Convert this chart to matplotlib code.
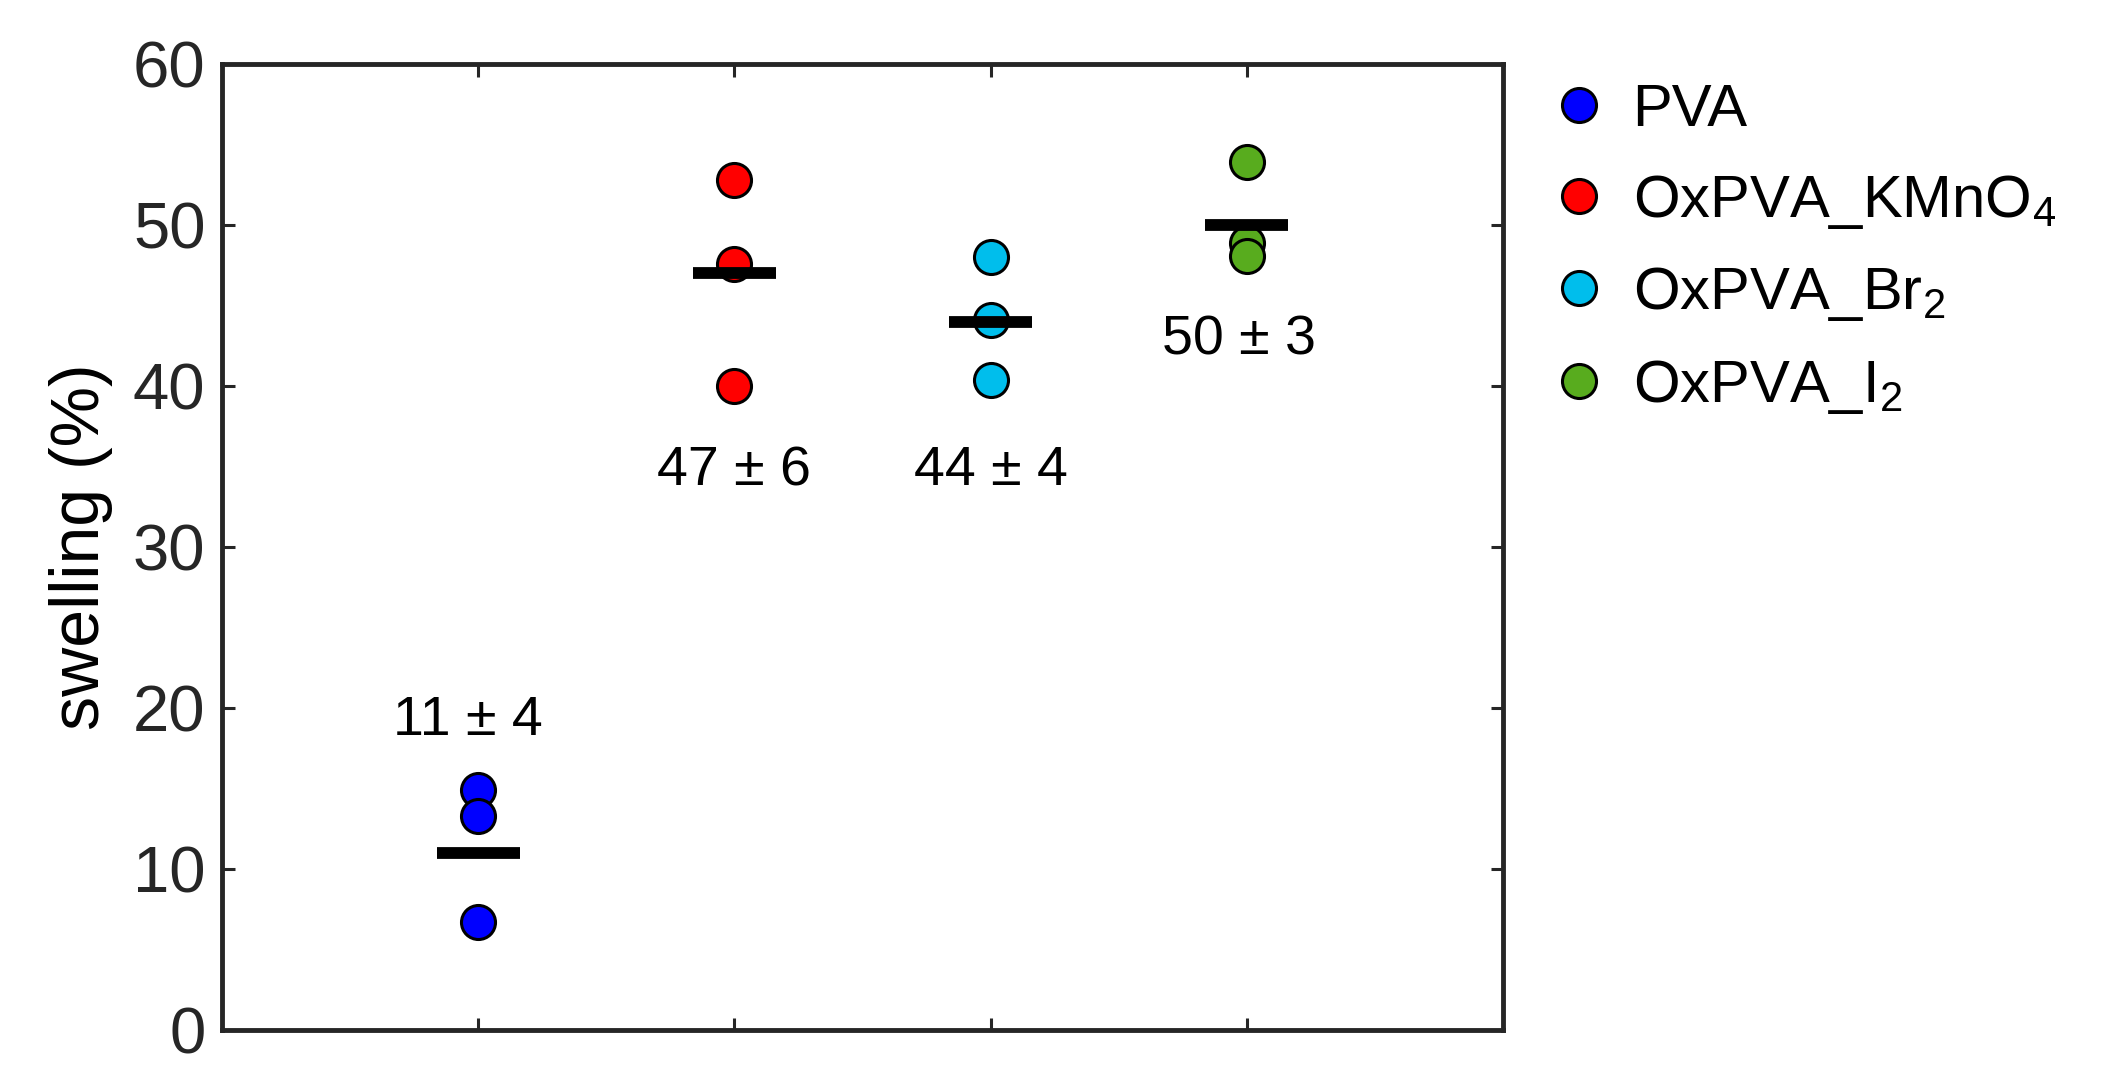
import matplotlib
matplotlib.use("Agg")
import matplotlib.pyplot as plt
from matplotlib.lines import Line2D

plt.rcParams['font.family'] = ['Liberation Sans', 'DejaVu Sans']
plt.rcParams['mathtext.fontset'] = 'custom'
plt.rcParams['mathtext.rm'] = 'Liberation Sans'
plt.rcParams['mathtext.it'] = 'Liberation Sans'

# data
groups = ['PVA', 'OxPVA_KMnO$_4$', 'OxPVA_Br$_2$', 'OxPVA_I$_2$']
colors = ['#0000FF', '#FF0000', '#00BEEC', '#58AC1E']
pva = [14.9, 13.3, 6.7]
kmno4 = [52.8, 47.6, 40.0]
br2 = [48.0, 44.1, 40.4]
i2 = [53.9, 48.9, 48.1]
means = [11, 47, 44, 50]
sds = [4, 6, 4, 3]

# where the "mean ± sd" labels sit (data coords)
label_x = [0.96, 2.0, 3.0, 3.97]
label_y = [19.2, 34.7, 34.7, 42.8]

fig = plt.figure(figsize=(21.11, 10.91), dpi=100)
ax = fig.add_axes([0.1052, 0.0559, 0.6068, 0.8854])

points = [pva, kmno4, br2, i2]
for i, vals in enumerate(points):
    xpos = i + 1
    ax.plot([xpos] * len(vals), vals, 'o', ms=24.5, mfc=colors[i], mec='black',
            mew=2.2, linestyle='none', zorder=3)
    ax.plot([xpos - 0.162, xpos + 0.162], [means[i], means[i]], color='black',
            lw=8.5, solid_capstyle='butt', zorder=4)
    ax.text(label_x[i], label_y[i], '%d ± %d' % (means[i], sds[i]),
            ha='center', va='center', fontsize=40, color='black')

ax.set_xlim(0, 5)
ax.set_ylim(0, 60)
ax.set_xticks([1, 2, 3, 4])
ax.set_xticklabels([])
ax.set_yticks(range(0, 61, 10))
ax.tick_params(direction='in', top=True, right=True, length=9, width=2.2,
               colors='#262626', labelsize=47, pad=12)
for sp in ax.spines.values():
    sp.set_linewidth(3.5)
    sp.set_color('#262626')

ax.set_ylabel('swelling (%)', fontsize=49, color='black', labelpad=14)

handles = [Line2D([], [], marker='o', ms=24.5, mfc=c, mec='black', mew=2.2,
                  linestyle='none') for c in colors]
fig.legend(handles, groups, loc='upper left', bbox_to_anchor=(0.7366, 0.924),
           frameon=False, fontsize=43, handlelength=0.8, handletextpad=0.5,
           labelspacing=0.58, borderaxespad=0, borderpad=0)

fig.savefig('out.png', dpi=100)
